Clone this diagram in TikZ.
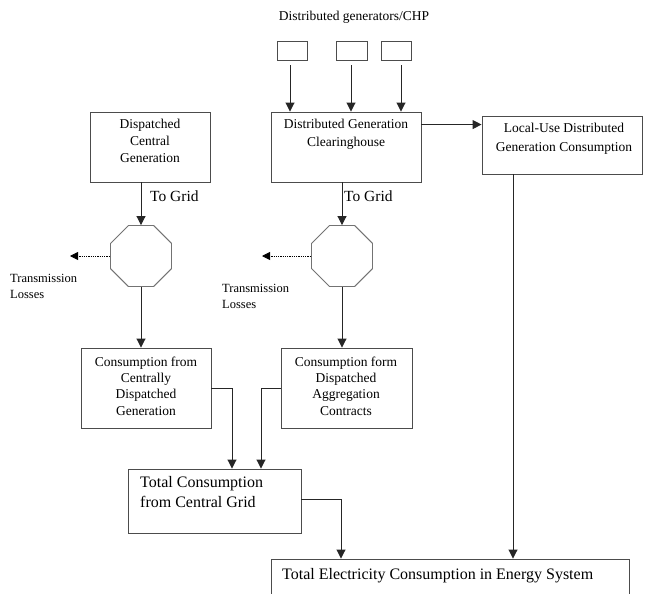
\documentclass[tikz,border=0pt]{standalone}
\usepackage{fontspec}
\setmainfont{Liberation Serif}
\usetikzlibrary{shapes.geometric,arrows.meta,calc}
\begin{document}
\begin{tikzpicture}[x=1pt,y=-1pt,
  box/.style={draw=black!70,line width=0.9pt,inner sep=0pt},
  arr/.style={draw=black!85,line width=0.9pt,-{Triangle[width=9pt,length=9pt]}},
  dotarr/.style={draw=black,line width=0.8pt,densely dotted,-{Triangle[width=8pt,length=8pt]}},
  oct/.style={regular polygon,regular polygon sides=8,minimum size=66pt,inner sep=0pt,draw=black!55,line width=0.9pt},
  btxt/.style={inner sep=0pt,align=center,anchor=north,font=\fontsize{13.5}{17}\selectfont},
  ltxt/.style={inner sep=0pt,align=left,anchor=north west,font=\fontsize{12.5}{16}\selectfont},
  gtxt/.style={inner sep=0pt,anchor=mid west,font=\fontsize{15.5}{18}\selectfont},
  bigtxt/.style={inner sep=0pt,align=left,anchor=north west,font=\fontsize{16}{20}\selectfont}]
\useasboundingbox (0,0) rectangle (645,594);
\clip (0,0) rectangle (645,594);

\node[inner sep=0pt,anchor=mid,font=\fontsize{13.5}{16}\selectfont] (title) at (354,18) {Distributed generators/CHP};
\node[box,minimum width=30pt,minimum height=19pt] (g1) at (292,50.5) {};
\node[box,minimum width=31pt,minimum height=19pt] (g2) at (351.5,50.5) {};
\node[box,minimum width=30pt,minimum height=19pt] (g3) at (396,50.5) {};

\node[box,minimum width=120pt,minimum height=70pt] (dcg) at (150,147) {};
\node[box,minimum width=150pt,minimum height=70pt] (dgc) at (346,147) {};
\node[box,minimum width=160pt,minimum height=58pt] (lu) at (562,145) {};
\node[oct] (o1) at (141,256) {};
\node[oct] (o2) at (342,256) {};
\node[box,minimum width=130pt,minimum height=80pt] (cc) at (146,388) {};
\node[box,minimum width=131pt,minimum height=80pt] (cd) at (346.5,388) {};
\node[box,minimum width=173pt,minimum height=64pt] (tcg) at (214.5,501) {};
\node[box,minimum width=358pt,minimum height=60pt] (tec) at (450,589) {};

\node[btxt] (dcgt) at (150,118.5) {Dispatched\\Central\\Generation};
\node[btxt,font=\fontsize{13.5}{18}\selectfont] (dgct) at (346,118.5) {Distributed Generation\\Clearinghouse};
\node[btxt,font=\fontsize{13.5}{19}\selectfont] (lut) at (564,122.5) {Local-Use Distributed\\Generation Consumption};
\node[btxt,font=\fontsize{13.5}{16.3}\selectfont] (cct) at (146,356.5) {Consumption from\\Centrally\\Dispatched\\Generation};
\node[btxt,font=\fontsize{13.5}{16.3}\selectfont] (cdt) at (346,356.5) {Consumption form\\Dispatched\\Aggregation\\Contracts};
\node[bigtxt] (tcgt) at (140,476.6) {Total Consumption\\from Central Grid};
\node[bigtxt] (tect) at (282,568.6) {Total Electricity Consumption in Energy System};
\node[gtxt] (tg1) at (150,199) {To Grid};
\node[gtxt] (tg2) at (344,199) {To Grid};
\node[ltxt] (tl1t) at (10,274) {Transmission\\Losses};
\node[ltxt] (tl2t) at (222,284) {Transmission\\Losses};

\coordinate (tl1) at (70,256);
\coordinate (tl2) at (262,256);

\draw[arr] ([xshift=-2pt,yshift=-5pt]g1.south) -- ([xshift=-2pt]g1.south |- dgc.north);
\draw[arr] ([xshift=-0.5pt,yshift=-5pt]g2.south) -- ([xshift=-0.5pt]g2.south |- dgc.north);
\draw[arr] ([xshift=5pt,yshift=-5pt]g3.south) -- ([xshift=5pt]g3.south |- dgc.north);
\draw[arr] ([yshift=-13pt]dgc.north east) -- ([yshift=-13pt]dgc.north east -| lu.west);
\draw[arr] (o1.north |- dcg.south) -- (o1.north);
\draw[arr] (o2.north |- dgc.south) -- (o2.north);
\draw[dotarr] (o1.west) -- (tl1);
\draw[dotarr] (o2.west) -- (tl2);
\draw[arr] (o1.south) -- (o1.south |- cc.north);
\draw[arr] (o2.south) -- (o2.south |- cd.north);
\draw[arr] (cc.east) -| ([xshift=17.5pt]tcg.north);
\draw[arr] (cd.west) -| ([xshift=46.5pt]tcg.north);
\draw[arr] ([yshift=2pt]tcg.east) -| ([xshift=-109pt]tec.north);
\draw[arr] ([xshift=-49pt]lu.south) -- ([xshift=-49pt]lu.south |- tec.north);
\end{tikzpicture}
\end{document}
